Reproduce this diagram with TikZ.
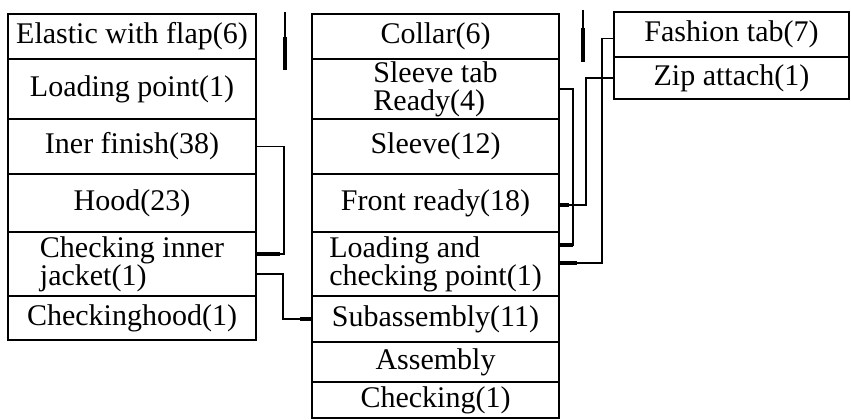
\documentclass[tikz,border=0pt]{standalone}
\usepackage{fontspec}
\setmainfont{Liberation Serif}
\begin{document}
\begin{tikzpicture}[x=0.5pt,y=-0.5pt,
  box/.style={draw, line width=0.8pt, inner sep=0pt, outer sep=0pt,
              font=\fontsize{15}{14}\selectfont},
  lcol/.style={box, minimum width=124pt},
  mcol/.style={box, minimum width=123.5pt},
  rcol/.style={box, minimum width=117.5pt},
  conn/.style={line width=0.6pt},
  stub/.style={line width=1.7pt},
]
\useasboundingbox (0,0) rectangle (851,419);

% left column
\node[lcol, minimum height=22.5pt] (elastic) at (132,36.5) {Elastic with flap(6)};
\node[lcol, minimum height=30pt]   (loadpt)  at (132,89)   {Loading point(1)};
\node[lcol, minimum height=27.5pt] (iner)    at (132,146.5) {Iner finish(38)};
\node[lcol, minimum height=29pt]   (hood)    at (132,203)  {Hood(23)};
\node[lcol, minimum height=32pt, align=left] (chkin) at (132,264) {Checking inner\\jacket(1)};
\node[lcol, minimum height=22pt]   (chkhood) at (132,318)  {Checkinghood(1)};

% middle column
\node[mcol, minimum height=22.5pt] (collar)    at (435.5,36.5)  {Collar(6)};
\node[mcol, minimum height=30pt, align=left] (sleevetab) at (435.5,89) {Sleeve tab\\Ready(4)};
\node[mcol, minimum height=27.5pt] (sleeve)    at (435.5,146.5) {Sleeve(12)};
\node[mcol, minimum height=29pt]   (front)     at (435.5,203)   {Front ready(18)};
\node[mcol, minimum height=32pt, align=left] (loadchk) at (435.5,264) {Loading and\\checking point(1)};
\node[mcol, minimum height=23pt]   (subasm)    at (435.5,319)   {Subassembly(11)};
\node[mcol, minimum height=20pt]   (asm)       at (435.5,362)   {Assembly};
\node[mcol, minimum height=18pt]   (checking)  at (435.5,400)   {Checking(1)};

% right column
\node[rcol, minimum height=22.5pt] (fashion) at (731.5,34.5) {Fashion tab(7)};
\node[rcol, minimum height=21pt]   (zip)     at (731.5,78)   {Zip attach(1)};

% connectors between the left and middle columns
\draw[conn] (iner.east) -- ++(28,0) |- ([yshift=5pt]chkin.east);
\draw[stub] ([yshift=5pt]chkin.east) -- ++(24,0);
\draw[conn] ([yshift=-5pt]chkin.east) -- ++(27,0) |- (subasm.west);
\draw[stub] (subasm.west) -- ++(-12,0);

% connectors on the right of the middle column
\draw[conn] (sleevetab.east) -- ++(14,0) |- ([yshift=9.5pt]loadchk.east);
\draw[stub] ([yshift=9.5pt]loadchk.east) -- ++(14,0);
\draw[conn] (zip.west) -- ++(-28,0) |- ([yshift=-1pt]front.east);
\draw[stub] ([yshift=-1pt]front.east) -- ++(10,0);
\draw[conn] ([yshift=-2pt]fashion.west) -- ++(-12,0) |- ([yshift=0.5pt]loadchk.east);
\draw[stub] ([yshift=0.5pt]loadchk.east) -- ++(18,0);

% short vertical bars at the top
\draw[conn] (285,12) -- (285,37);
\draw[stub, line width=2pt] (285,37) -- (285,70);
\draw[conn] (583,10) -- (583,28);
\draw[stub, line width=2pt] (583,28) -- (583,62);
\end{tikzpicture}
\end{document}
